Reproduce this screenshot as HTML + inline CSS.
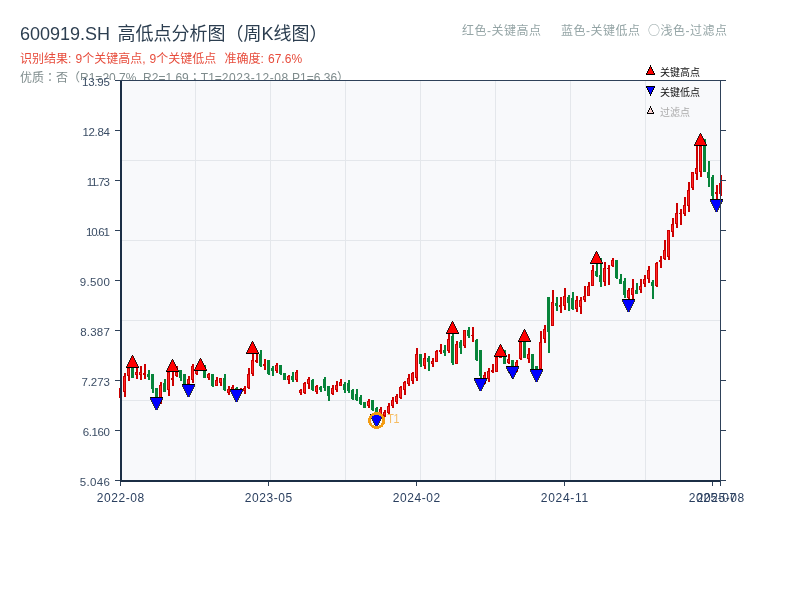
<!DOCTYPE html>
<html lang="zh-CN">
<head>
<meta charset="utf-8">
<title>600919.SH 高低点分析图（周K线图）</title>
<style>
html,body{margin:0;padding:0;background:#fff;}
body{width:800px;height:600px;position:relative;overflow:hidden;font-family:"Liberation Sans", "Noto Sans CJK SC", sans-serif;}
.hdr{position:absolute;white-space:nowrap;line-height:1;}
#title{left:20px;top:25px;font-size:18px;color:#2c3e50;word-spacing:2.5px;}
#res{left:20px;top:53.3px;font-size:12px;color:#e74c3c;word-spacing:.8px;}
#qual{left:20px;top:71px;font-size:12px;color:#7f8c8d;}
#note{left:462px;top:23.5px;font-size:12px;color:#95a5a6;letter-spacing:.5px;}
#note b{font-weight:normal;font-family:"Noto Sans CJK SC",sans-serif;}
#note span{display:inline-block;}
#qual i{font-style:normal;font-family:"Noto Sans CJK TC","Noto Sans CJK JP",sans-serif;}
svg{position:absolute;left:0;top:0;}
svg text{font-family:"Liberation Sans", "Noto Sans CJK SC", sans-serif;}
</style>
</head>
<body>
<div class="hdr" id="title">600919.SH 高低点分析图（周K线图）</div>
<div class="hdr" id="res">识别结果: 9个关键高点, 9个关键低点&nbsp; 准确度: 67.6%</div>
<div class="hdr" id="qual">优质<i lang="zh-TW">：</i>否（R1=20.7%&nbsp; R2=1.69<i lang="zh-TW">；</i>T1=<span style="letter-spacing:.55px">2023-12-08</span> P1=6.36）</div>
<div class="hdr" id="note"><span style="width:99px">红色-关键高点</span><span style="width:88px">蓝色-关键低点</span><span style="margin-left:-1px"><b>○</b>浅色-过滤点</span></div>
<svg width="800" height="600" viewBox="0 0 800 600">

<rect x="80" y="80" width="40" height="6" fill="#fff"/>
<rect x="120" y="80" width="601" height="401" fill="#f8f9fb"/>
<g fill="#e4e7eb" shape-rendering="crispEdges">
<rect x="195" y="81" width="1" height="400"/>
<rect x="270" y="81" width="1" height="400"/>
<rect x="345" y="81" width="1" height="400"/>
<rect x="420" y="81" width="1" height="400"/>
<rect x="495" y="81" width="1" height="400"/>
<rect x="570" y="81" width="1" height="400"/>
<rect x="645" y="81" width="1" height="400"/>
<rect x="122" y="160" width="598" height="1"/>
<rect x="122" y="240" width="598" height="1"/>
<rect x="122" y="320" width="598" height="1"/>
<rect x="122" y="400" width="598" height="1"/>
</g>
<g shape-rendering="crispEdges">
<rect x="119" y="388" width="3" height="10" fill="#cc0000"/>
<rect x="120" y="389" width="1" height="8" fill="#ff2626"/>
<rect x="124" y="373" width="2" height="24" fill="#cc0000"/>
<rect x="123" y="376" width="3" height="16" fill="#cc0000"/>
<rect x="124" y="377" width="1" height="14" fill="#ff2626"/>
<rect x="128" y="368" width="2" height="13" fill="#cc0000"/>
<rect x="127" y="368" width="3" height="8" fill="#cc0000"/>
<rect x="128" y="369" width="1" height="6" fill="#ff2626"/>
<rect x="132" y="368" width="2" height="10" fill="#07843a"/>
<rect x="131" y="368" width="3" height="10" fill="#07843a"/>
<rect x="136" y="368" width="2" height="11" fill="#cc0000"/>
<rect x="135" y="372" width="3" height="3" fill="#cc0000"/>
<rect x="136" y="373" width="1" height="1" fill="#ff2626"/>
<rect x="140" y="366" width="2" height="14" fill="#cc0000"/>
<rect x="139" y="372" width="3" height="3" fill="#cc0000"/>
<rect x="140" y="373" width="1" height="1" fill="#ff2626"/>
<rect x="144" y="364" width="2" height="15" fill="#cc0000"/>
<rect x="143" y="373" width="3" height="2" fill="#cc0000"/>
<rect x="148" y="370" width="2" height="10" fill="#07843a"/>
<rect x="147" y="374" width="3" height="3" fill="#07843a"/>
<rect x="152" y="374" width="2" height="19" fill="#07843a"/>
<rect x="151" y="374" width="3" height="15" fill="#07843a"/>
<rect x="156" y="388" width="2" height="10" fill="#07843a"/>
<rect x="155" y="388" width="3" height="9" fill="#07843a"/>
<rect x="160" y="382" width="2" height="22" fill="#cc0000"/>
<rect x="159" y="385" width="3" height="14" fill="#cc0000"/>
<rect x="160" y="386" width="1" height="12" fill="#ff2626"/>
<rect x="164" y="379" width="2" height="13" fill="#07843a"/>
<rect x="163" y="383" width="3" height="9" fill="#07843a"/>
<rect x="168" y="372" width="2" height="24" fill="#cc0000"/>
<rect x="167" y="372" width="3" height="18" fill="#cc0000"/>
<rect x="168" y="373" width="1" height="16" fill="#ff2626"/>
<rect x="172" y="372" width="2" height="14" fill="#cc0000"/>
<rect x="171" y="378" width="3" height="2" fill="#cc0000"/>
<rect x="176" y="366" width="2" height="11" fill="#cc0000"/>
<rect x="175" y="372" width="3" height="4" fill="#cc0000"/>
<rect x="176" y="373" width="1" height="2" fill="#ff2626"/>
<rect x="180" y="370" width="2" height="11" fill="#07843a"/>
<rect x="179" y="370" width="3" height="8" fill="#07843a"/>
<rect x="184" y="374" width="2" height="10" fill="#07843a"/>
<rect x="183" y="374" width="3" height="10" fill="#07843a"/>
<rect x="188" y="376" width="2" height="8" fill="#cc0000"/>
<rect x="187" y="379" width="3" height="5" fill="#cc0000"/>
<rect x="188" y="380" width="1" height="3" fill="#ff2626"/>
<rect x="192" y="364" width="2" height="19" fill="#cc0000"/>
<rect x="191" y="366" width="3" height="14" fill="#cc0000"/>
<rect x="192" y="367" width="1" height="12" fill="#ff2626"/>
<rect x="196" y="365" width="2" height="10" fill="#cc0000"/>
<rect x="195" y="370" width="3" height="4" fill="#cc0000"/>
<rect x="196" y="371" width="1" height="2" fill="#ff2626"/>
<rect x="204" y="365" width="2" height="13" fill="#07843a"/>
<rect x="203" y="366" width="3" height="12" fill="#07843a"/>
<rect x="208" y="373" width="2" height="7" fill="#cc0000"/>
<rect x="207" y="374" width="3" height="4" fill="#cc0000"/>
<rect x="208" y="375" width="1" height="2" fill="#ff2626"/>
<rect x="212" y="374" width="2" height="13" fill="#07843a"/>
<rect x="211" y="374" width="3" height="12" fill="#07843a"/>
<rect x="216" y="377" width="2" height="9" fill="#cc0000"/>
<rect x="215" y="380" width="3" height="6" fill="#cc0000"/>
<rect x="216" y="381" width="1" height="4" fill="#ff2626"/>
<rect x="220" y="378" width="2" height="8" fill="#cc0000"/>
<rect x="219" y="378" width="3" height="5" fill="#cc0000"/>
<rect x="220" y="379" width="1" height="3" fill="#ff2626"/>
<rect x="224" y="374" width="2" height="17" fill="#07843a"/>
<rect x="223" y="378" width="3" height="12" fill="#07843a"/>
<rect x="228" y="386" width="2" height="9" fill="#cc0000"/>
<rect x="227" y="389" width="3" height="4" fill="#cc0000"/>
<rect x="228" y="390" width="1" height="2" fill="#ff2626"/>
<rect x="232" y="385" width="2" height="7" fill="#cc0000"/>
<rect x="231" y="387" width="3" height="4" fill="#cc0000"/>
<rect x="232" y="388" width="1" height="2" fill="#ff2626"/>
<rect x="236" y="387" width="2" height="2" fill="#07843a"/>
<rect x="235" y="388" width="3" height="1" fill="#07843a"/>
<rect x="240" y="388" width="2" height="5" fill="#cc0000"/>
<rect x="239" y="389" width="3" height="3" fill="#cc0000"/>
<rect x="240" y="390" width="1" height="1" fill="#ff2626"/>
<rect x="244" y="386" width="2" height="8" fill="#cc0000"/>
<rect x="243" y="388" width="3" height="3" fill="#cc0000"/>
<rect x="244" y="389" width="1" height="1" fill="#ff2626"/>
<rect x="248" y="368" width="2" height="21" fill="#cc0000"/>
<rect x="247" y="374" width="3" height="14" fill="#cc0000"/>
<rect x="248" y="375" width="1" height="12" fill="#ff2626"/>
<rect x="252" y="354" width="2" height="22" fill="#cc0000"/>
<rect x="251" y="360" width="3" height="14" fill="#cc0000"/>
<rect x="252" y="361" width="1" height="12" fill="#ff2626"/>
<rect x="256" y="354" width="2" height="9" fill="#cc0000"/>
<rect x="255" y="360" width="3" height="2" fill="#cc0000"/>
<rect x="260" y="350" width="2" height="17" fill="#07843a"/>
<rect x="259" y="354" width="3" height="12" fill="#07843a"/>
<rect x="264" y="359" width="2" height="11" fill="#cc0000"/>
<rect x="263" y="364" width="3" height="2" fill="#cc0000"/>
<rect x="268" y="360" width="2" height="15" fill="#07843a"/>
<rect x="267" y="360" width="3" height="14" fill="#07843a"/>
<rect x="272" y="366" width="2" height="10" fill="#07843a"/>
<rect x="271" y="368" width="3" height="3" fill="#07843a"/>
<rect x="276" y="363" width="2" height="10" fill="#cc0000"/>
<rect x="275" y="365" width="3" height="6" fill="#cc0000"/>
<rect x="276" y="366" width="1" height="4" fill="#ff2626"/>
<rect x="280" y="365" width="2" height="10" fill="#07843a"/>
<rect x="279" y="365" width="3" height="9" fill="#07843a"/>
<rect x="284" y="373" width="2" height="7" fill="#07843a"/>
<rect x="283" y="373" width="3" height="7" fill="#07843a"/>
<rect x="288" y="375" width="2" height="9" fill="#cc0000"/>
<rect x="287" y="376" width="3" height="4" fill="#cc0000"/>
<rect x="288" y="377" width="1" height="2" fill="#ff2626"/>
<rect x="292" y="372" width="2" height="10" fill="#07843a"/>
<rect x="291" y="376" width="3" height="4" fill="#07843a"/>
<rect x="296" y="370" width="2" height="12" fill="#cc0000"/>
<rect x="295" y="372" width="3" height="8" fill="#cc0000"/>
<rect x="296" y="373" width="1" height="6" fill="#ff2626"/>
<rect x="300" y="389" width="2" height="6" fill="#cc0000"/>
<rect x="299" y="390" width="3" height="3" fill="#cc0000"/>
<rect x="300" y="391" width="1" height="1" fill="#ff2626"/>
<rect x="304" y="382" width="2" height="12" fill="#cc0000"/>
<rect x="303" y="383" width="3" height="10" fill="#cc0000"/>
<rect x="304" y="384" width="1" height="8" fill="#ff2626"/>
<rect x="308" y="377" width="2" height="12" fill="#cc0000"/>
<rect x="307" y="379" width="3" height="5" fill="#cc0000"/>
<rect x="308" y="380" width="1" height="3" fill="#ff2626"/>
<rect x="312" y="379" width="2" height="12" fill="#07843a"/>
<rect x="311" y="380" width="3" height="10" fill="#07843a"/>
<rect x="316" y="385" width="2" height="9" fill="#cc0000"/>
<rect x="315" y="386" width="3" height="6" fill="#cc0000"/>
<rect x="316" y="387" width="1" height="4" fill="#ff2626"/>
<rect x="320" y="386" width="2" height="6" fill="#07843a"/>
<rect x="319" y="387" width="3" height="3" fill="#07843a"/>
<rect x="324" y="377" width="2" height="14" fill="#07843a"/>
<rect x="323" y="379" width="3" height="9" fill="#07843a"/>
<rect x="328" y="386" width="2" height="15" fill="#07843a"/>
<rect x="327" y="386" width="3" height="10" fill="#07843a"/>
<rect x="332" y="385" width="2" height="10" fill="#cc0000"/>
<rect x="331" y="388" width="3" height="6" fill="#cc0000"/>
<rect x="332" y="389" width="1" height="4" fill="#ff2626"/>
<rect x="336" y="381" width="2" height="11" fill="#cc0000"/>
<rect x="335" y="385" width="3" height="5" fill="#cc0000"/>
<rect x="336" y="386" width="1" height="3" fill="#ff2626"/>
<rect x="340" y="379" width="2" height="7" fill="#cc0000"/>
<rect x="339" y="382" width="3" height="4" fill="#cc0000"/>
<rect x="340" y="383" width="1" height="2" fill="#ff2626"/>
<rect x="344" y="382" width="2" height="11" fill="#07843a"/>
<rect x="343" y="384" width="3" height="6" fill="#07843a"/>
<rect x="348" y="380" width="2" height="13" fill="#07843a"/>
<rect x="347" y="383" width="3" height="8" fill="#07843a"/>
<rect x="352" y="389" width="2" height="11" fill="#07843a"/>
<rect x="351" y="390" width="3" height="9" fill="#07843a"/>
<rect x="356" y="389" width="2" height="12" fill="#07843a"/>
<rect x="355" y="394" width="3" height="6" fill="#07843a"/>
<rect x="360" y="395" width="2" height="10" fill="#07843a"/>
<rect x="359" y="397" width="3" height="7" fill="#07843a"/>
<rect x="364" y="402" width="2" height="6" fill="#07843a"/>
<rect x="363" y="402" width="3" height="6" fill="#07843a"/>
<rect x="368" y="399" width="2" height="9" fill="#cc0000"/>
<rect x="367" y="401" width="3" height="5" fill="#cc0000"/>
<rect x="368" y="402" width="1" height="3" fill="#ff2626"/>
<rect x="372" y="400" width="2" height="11" fill="#07843a"/>
<rect x="371" y="400" width="3" height="10" fill="#07843a"/>
<rect x="376" y="407" width="2" height="7" fill="#07843a"/>
<rect x="375" y="408" width="3" height="6" fill="#07843a"/>
<rect x="380" y="407" width="2" height="8" fill="#cc0000"/>
<rect x="379" y="409" width="3" height="5" fill="#cc0000"/>
<rect x="380" y="410" width="1" height="3" fill="#ff2626"/>
<rect x="384" y="410" width="2" height="7" fill="#cc0000"/>
<rect x="383" y="412" width="3" height="4" fill="#cc0000"/>
<rect x="384" y="413" width="1" height="2" fill="#ff2626"/>
<rect x="388" y="403" width="2" height="11" fill="#cc0000"/>
<rect x="387" y="406" width="3" height="7" fill="#cc0000"/>
<rect x="388" y="407" width="1" height="5" fill="#ff2626"/>
<rect x="392" y="397" width="2" height="11" fill="#cc0000"/>
<rect x="391" y="400" width="3" height="6" fill="#cc0000"/>
<rect x="392" y="401" width="1" height="4" fill="#ff2626"/>
<rect x="396" y="394" width="2" height="10" fill="#cc0000"/>
<rect x="395" y="396" width="3" height="6" fill="#cc0000"/>
<rect x="396" y="397" width="1" height="4" fill="#ff2626"/>
<rect x="400" y="386" width="2" height="13" fill="#cc0000"/>
<rect x="399" y="387" width="3" height="11" fill="#cc0000"/>
<rect x="400" y="388" width="1" height="9" fill="#ff2626"/>
<rect x="404" y="381" width="2" height="14" fill="#cc0000"/>
<rect x="403" y="382" width="3" height="8" fill="#cc0000"/>
<rect x="404" y="383" width="1" height="6" fill="#ff2626"/>
<rect x="408" y="374" width="2" height="12" fill="#cc0000"/>
<rect x="407" y="378" width="3" height="6" fill="#cc0000"/>
<rect x="408" y="379" width="1" height="4" fill="#ff2626"/>
<rect x="412" y="372" width="2" height="12" fill="#cc0000"/>
<rect x="411" y="373" width="3" height="8" fill="#cc0000"/>
<rect x="412" y="374" width="1" height="6" fill="#ff2626"/>
<rect x="416" y="348" width="2" height="33" fill="#cc0000"/>
<rect x="415" y="354" width="3" height="24" fill="#cc0000"/>
<rect x="416" y="355" width="1" height="22" fill="#ff2626"/>
<rect x="420" y="354" width="2" height="13" fill="#07843a"/>
<rect x="419" y="354" width="3" height="10" fill="#07843a"/>
<rect x="424" y="353" width="2" height="16" fill="#cc0000"/>
<rect x="423" y="358" width="3" height="8" fill="#cc0000"/>
<rect x="424" y="359" width="1" height="6" fill="#ff2626"/>
<rect x="428" y="356" width="2" height="15" fill="#07843a"/>
<rect x="427" y="358" width="3" height="4" fill="#07843a"/>
<rect x="432" y="358" width="2" height="9" fill="#cc0000"/>
<rect x="431" y="361" width="3" height="3" fill="#cc0000"/>
<rect x="432" y="362" width="1" height="1" fill="#ff2626"/>
<rect x="436" y="350" width="2" height="12" fill="#cc0000"/>
<rect x="435" y="351" width="3" height="11" fill="#cc0000"/>
<rect x="436" y="352" width="1" height="9" fill="#ff2626"/>
<rect x="440" y="344" width="2" height="10" fill="#cc0000"/>
<rect x="439" y="350" width="3" height="2" fill="#cc0000"/>
<rect x="444" y="345" width="2" height="11" fill="#07843a"/>
<rect x="443" y="350" width="3" height="3" fill="#07843a"/>
<rect x="448" y="334" width="2" height="19" fill="#cc0000"/>
<rect x="447" y="339" width="3" height="12" fill="#cc0000"/>
<rect x="448" y="340" width="1" height="10" fill="#ff2626"/>
<rect x="452" y="334" width="2" height="31" fill="#07843a"/>
<rect x="451" y="336" width="3" height="27" fill="#07843a"/>
<rect x="456" y="341" width="2" height="23" fill="#cc0000"/>
<rect x="455" y="344" width="3" height="20" fill="#cc0000"/>
<rect x="456" y="345" width="1" height="18" fill="#ff2626"/>
<rect x="460" y="340" width="2" height="14" fill="#07843a"/>
<rect x="459" y="342" width="3" height="6" fill="#07843a"/>
<rect x="464" y="330" width="2" height="18" fill="#cc0000"/>
<rect x="463" y="330" width="3" height="16" fill="#cc0000"/>
<rect x="464" y="331" width="1" height="14" fill="#ff2626"/>
<rect x="468" y="327" width="2" height="11" fill="#07843a"/>
<rect x="467" y="330" width="3" height="6" fill="#07843a"/>
<rect x="472" y="327" width="2" height="15" fill="#cc0000"/>
<rect x="471" y="335" width="3" height="1" fill="#cc0000"/>
<rect x="476" y="339" width="2" height="22" fill="#07843a"/>
<rect x="475" y="340" width="3" height="20" fill="#07843a"/>
<rect x="480" y="350" width="2" height="28" fill="#07843a"/>
<rect x="479" y="350" width="3" height="26" fill="#07843a"/>
<rect x="484" y="372" width="2" height="12" fill="#cc0000"/>
<rect x="483" y="375" width="3" height="8" fill="#cc0000"/>
<rect x="484" y="376" width="1" height="6" fill="#ff2626"/>
<rect x="488" y="368" width="2" height="14" fill="#cc0000"/>
<rect x="487" y="371" width="3" height="8" fill="#cc0000"/>
<rect x="488" y="372" width="1" height="6" fill="#ff2626"/>
<rect x="492" y="364" width="2" height="9" fill="#cc0000"/>
<rect x="491" y="370" width="3" height="2" fill="#cc0000"/>
<rect x="496" y="357" width="2" height="15" fill="#cc0000"/>
<rect x="495" y="357" width="3" height="15" fill="#cc0000"/>
<rect x="496" y="358" width="1" height="13" fill="#ff2626"/>
<rect x="500" y="350" width="2" height="8" fill="#cc0000"/>
<rect x="499" y="352" width="3" height="6" fill="#cc0000"/>
<rect x="500" y="353" width="1" height="4" fill="#ff2626"/>
<rect x="504" y="350" width="2" height="14" fill="#07843a"/>
<rect x="503" y="350" width="3" height="14" fill="#07843a"/>
<rect x="508" y="354" width="2" height="10" fill="#cc0000"/>
<rect x="507" y="359" width="3" height="4" fill="#cc0000"/>
<rect x="508" y="360" width="1" height="2" fill="#ff2626"/>
<rect x="512" y="360" width="2" height="6" fill="#07843a"/>
<rect x="511" y="360" width="3" height="6" fill="#07843a"/>
<rect x="516" y="360" width="2" height="12" fill="#cc0000"/>
<rect x="515" y="362" width="3" height="10" fill="#cc0000"/>
<rect x="516" y="363" width="1" height="8" fill="#ff2626"/>
<rect x="520" y="342" width="2" height="18" fill="#cc0000"/>
<rect x="519" y="342" width="3" height="17" fill="#cc0000"/>
<rect x="520" y="343" width="1" height="15" fill="#ff2626"/>
<rect x="524" y="342" width="2" height="16" fill="#07843a"/>
<rect x="523" y="342" width="3" height="16" fill="#07843a"/>
<rect x="528" y="348" width="2" height="15" fill="#cc0000"/>
<rect x="527" y="354" width="3" height="5" fill="#cc0000"/>
<rect x="528" y="355" width="1" height="3" fill="#ff2626"/>
<rect x="532" y="354" width="2" height="15" fill="#07843a"/>
<rect x="531" y="354" width="3" height="15" fill="#07843a"/>
<rect x="536" y="366" width="2" height="3" fill="#07843a"/>
<rect x="535" y="366" width="3" height="3" fill="#07843a"/>
<rect x="540" y="331" width="2" height="38" fill="#cc0000"/>
<rect x="539" y="342" width="3" height="27" fill="#cc0000"/>
<rect x="540" y="343" width="1" height="25" fill="#ff2626"/>
<rect x="544" y="325" width="2" height="18" fill="#cc0000"/>
<rect x="543" y="329" width="3" height="10" fill="#cc0000"/>
<rect x="544" y="330" width="1" height="8" fill="#ff2626"/>
<rect x="548" y="297" width="2" height="56" fill="#07843a"/>
<rect x="547" y="297" width="3" height="35" fill="#07843a"/>
<rect x="552" y="290" width="2" height="36" fill="#cc0000"/>
<rect x="551" y="302" width="3" height="24" fill="#cc0000"/>
<rect x="552" y="303" width="1" height="22" fill="#ff2626"/>
<rect x="556" y="297" width="2" height="14" fill="#07843a"/>
<rect x="555" y="303" width="3" height="3" fill="#07843a"/>
<rect x="560" y="297" width="2" height="16" fill="#cc0000"/>
<rect x="559" y="305" width="3" height="2" fill="#cc0000"/>
<rect x="564" y="288" width="2" height="22" fill="#cc0000"/>
<rect x="563" y="296" width="3" height="10" fill="#cc0000"/>
<rect x="564" y="297" width="1" height="8" fill="#ff2626"/>
<rect x="568" y="295" width="2" height="16" fill="#07843a"/>
<rect x="567" y="297" width="3" height="6" fill="#07843a"/>
<rect x="572" y="292" width="2" height="18" fill="#07843a"/>
<rect x="571" y="298" width="3" height="11" fill="#07843a"/>
<rect x="576" y="296" width="2" height="16" fill="#cc0000"/>
<rect x="575" y="300" width="3" height="9" fill="#cc0000"/>
<rect x="576" y="301" width="1" height="7" fill="#ff2626"/>
<rect x="580" y="297" width="2" height="17" fill="#cc0000"/>
<rect x="579" y="300" width="3" height="7" fill="#cc0000"/>
<rect x="580" y="301" width="1" height="5" fill="#ff2626"/>
<rect x="584" y="286" width="2" height="16" fill="#cc0000"/>
<rect x="583" y="296" width="3" height="4" fill="#cc0000"/>
<rect x="584" y="297" width="1" height="2" fill="#ff2626"/>
<rect x="588" y="282" width="2" height="14" fill="#cc0000"/>
<rect x="587" y="286" width="3" height="10" fill="#cc0000"/>
<rect x="588" y="287" width="1" height="8" fill="#ff2626"/>
<rect x="592" y="265" width="2" height="21" fill="#cc0000"/>
<rect x="591" y="270" width="3" height="16" fill="#cc0000"/>
<rect x="592" y="271" width="1" height="14" fill="#ff2626"/>
<rect x="596" y="264" width="2" height="13" fill="#07843a"/>
<rect x="595" y="271" width="3" height="5" fill="#07843a"/>
<rect x="600" y="258" width="2" height="29" fill="#07843a"/>
<rect x="599" y="275" width="3" height="7" fill="#07843a"/>
<rect x="604" y="262" width="2" height="24" fill="#cc0000"/>
<rect x="603" y="268" width="3" height="14" fill="#cc0000"/>
<rect x="604" y="269" width="1" height="12" fill="#ff2626"/>
<rect x="608" y="265" width="2" height="20" fill="#cc0000"/>
<rect x="607" y="268" width="3" height="1" fill="#cc0000"/>
<rect x="612" y="258" width="2" height="9" fill="#cc0000"/>
<rect x="611" y="260" width="3" height="6" fill="#cc0000"/>
<rect x="612" y="261" width="1" height="4" fill="#ff2626"/>
<rect x="616" y="260" width="2" height="19" fill="#07843a"/>
<rect x="615" y="260" width="3" height="18" fill="#07843a"/>
<rect x="620" y="274" width="2" height="10" fill="#07843a"/>
<rect x="619" y="279" width="3" height="5" fill="#07843a"/>
<rect x="624" y="278" width="2" height="20" fill="#07843a"/>
<rect x="623" y="281" width="3" height="14" fill="#07843a"/>
<rect x="628" y="288" width="2" height="11" fill="#cc0000"/>
<rect x="627" y="290" width="3" height="8" fill="#cc0000"/>
<rect x="628" y="291" width="1" height="6" fill="#ff2626"/>
<rect x="632" y="279" width="2" height="20" fill="#cc0000"/>
<rect x="631" y="288" width="3" height="7" fill="#cc0000"/>
<rect x="632" y="289" width="1" height="5" fill="#ff2626"/>
<rect x="636" y="283" width="2" height="11" fill="#07843a"/>
<rect x="635" y="290" width="3" height="4" fill="#07843a"/>
<rect x="640" y="279" width="2" height="14" fill="#cc0000"/>
<rect x="639" y="286" width="3" height="4" fill="#cc0000"/>
<rect x="640" y="287" width="1" height="2" fill="#ff2626"/>
<rect x="644" y="275" width="2" height="12" fill="#cc0000"/>
<rect x="643" y="279" width="3" height="5" fill="#cc0000"/>
<rect x="644" y="280" width="1" height="3" fill="#ff2626"/>
<rect x="648" y="266" width="2" height="17" fill="#cc0000"/>
<rect x="647" y="270" width="3" height="9" fill="#cc0000"/>
<rect x="648" y="271" width="1" height="7" fill="#ff2626"/>
<rect x="652" y="280" width="2" height="19" fill="#07843a"/>
<rect x="651" y="282" width="3" height="4" fill="#07843a"/>
<rect x="656" y="262" width="2" height="25" fill="#cc0000"/>
<rect x="655" y="263" width="3" height="23" fill="#cc0000"/>
<rect x="656" y="264" width="1" height="21" fill="#ff2626"/>
<rect x="660" y="256" width="2" height="12" fill="#cc0000"/>
<rect x="659" y="260" width="3" height="2" fill="#cc0000"/>
<rect x="664" y="240" width="2" height="20" fill="#cc0000"/>
<rect x="663" y="250" width="3" height="9" fill="#cc0000"/>
<rect x="664" y="251" width="1" height="7" fill="#ff2626"/>
<rect x="668" y="230" width="2" height="30" fill="#cc0000"/>
<rect x="667" y="230" width="3" height="27" fill="#cc0000"/>
<rect x="668" y="231" width="1" height="25" fill="#ff2626"/>
<rect x="672" y="218" width="2" height="19" fill="#cc0000"/>
<rect x="671" y="224" width="3" height="8" fill="#cc0000"/>
<rect x="672" y="225" width="1" height="6" fill="#ff2626"/>
<rect x="676" y="203" width="2" height="25" fill="#cc0000"/>
<rect x="675" y="213" width="3" height="11" fill="#cc0000"/>
<rect x="676" y="214" width="1" height="9" fill="#ff2626"/>
<rect x="680" y="209" width="2" height="16" fill="#cc0000"/>
<rect x="679" y="213" width="3" height="1" fill="#cc0000"/>
<rect x="684" y="197" width="2" height="19" fill="#cc0000"/>
<rect x="683" y="205" width="3" height="9" fill="#cc0000"/>
<rect x="684" y="206" width="1" height="7" fill="#ff2626"/>
<rect x="688" y="182" width="2" height="30" fill="#cc0000"/>
<rect x="687" y="190" width="3" height="16" fill="#cc0000"/>
<rect x="688" y="191" width="1" height="14" fill="#ff2626"/>
<rect x="692" y="172" width="2" height="18" fill="#cc0000"/>
<rect x="691" y="172" width="3" height="16" fill="#cc0000"/>
<rect x="692" y="173" width="1" height="14" fill="#ff2626"/>
<rect x="696" y="146" width="2" height="34" fill="#cc0000"/>
<rect x="695" y="168" width="3" height="6" fill="#cc0000"/>
<rect x="696" y="169" width="1" height="4" fill="#ff2626"/>
<rect x="700" y="146" width="2" height="31" fill="#cc0000"/>
<rect x="699" y="146" width="3" height="26" fill="#cc0000"/>
<rect x="700" y="147" width="1" height="24" fill="#ff2626"/>
<rect x="704" y="139" width="2" height="33" fill="#07843a"/>
<rect x="703" y="139" width="3" height="33" fill="#07843a"/>
<rect x="708" y="161" width="2" height="26" fill="#07843a"/>
<rect x="707" y="172" width="3" height="6" fill="#07843a"/>
<rect x="712" y="175" width="2" height="24" fill="#07843a"/>
<rect x="711" y="177" width="3" height="19" fill="#07843a"/>
<rect x="716" y="185" width="2" height="14" fill="#cc0000"/>
<rect x="715" y="192" width="3" height="2" fill="#cc0000"/>
<rect x="720" y="175" width="2" height="21" fill="#cc0000"/>
<rect x="719" y="183" width="3" height="11" fill="#cc0000"/>
<rect x="720" y="184" width="1" height="9" fill="#ff2626"/>
</g>
<path d="M126.30 367.50 L138.70 367.50 L132.50 355.10 Z" fill="#ff0000" stroke="#000" stroke-width="0.8" shape-rendering="crispEdges"/><rect x="125.8" y="367.0" width="13.4" height="1" fill="#000" shape-rendering="crispEdges"/>
<path d="M166.30 371.50 L178.70 371.50 L172.50 359.10 Z" fill="#ff0000" stroke="#000" stroke-width="0.8" shape-rendering="crispEdges"/><rect x="165.8" y="371.0" width="13.4" height="1" fill="#000" shape-rendering="crispEdges"/>
<path d="M194.30 370.50 L206.70 370.50 L200.50 358.10 Z" fill="#ff0000" stroke="#000" stroke-width="0.8" shape-rendering="crispEdges"/><rect x="193.8" y="370.0" width="13.4" height="1" fill="#000" shape-rendering="crispEdges"/>
<path d="M246.30 353.50 L258.70 353.50 L252.50 341.10 Z" fill="#ff0000" stroke="#000" stroke-width="0.8" shape-rendering="crispEdges"/><rect x="245.8" y="353.0" width="13.4" height="1" fill="#000" shape-rendering="crispEdges"/>
<path d="M446.30 333.50 L458.70 333.50 L452.50 321.10 Z" fill="#ff0000" stroke="#000" stroke-width="0.8" shape-rendering="crispEdges"/><rect x="445.8" y="333.0" width="13.4" height="1" fill="#000" shape-rendering="crispEdges"/>
<path d="M494.30 356.50 L506.70 356.50 L500.50 344.10 Z" fill="#ff0000" stroke="#000" stroke-width="0.8" shape-rendering="crispEdges"/><rect x="493.8" y="356.0" width="13.4" height="1" fill="#000" shape-rendering="crispEdges"/>
<path d="M518.30 341.50 L530.70 341.50 L524.50 329.10 Z" fill="#ff0000" stroke="#000" stroke-width="0.8" shape-rendering="crispEdges"/><rect x="517.8" y="341.0" width="13.4" height="1" fill="#000" shape-rendering="crispEdges"/>
<path d="M590.30 263.50 L602.70 263.50 L596.50 251.10 Z" fill="#ff0000" stroke="#000" stroke-width="0.8" shape-rendering="crispEdges"/><rect x="589.8" y="263.0" width="13.4" height="1" fill="#000" shape-rendering="crispEdges"/>
<path d="M694.30 145.50 L706.70 145.50 L700.50 133.10 Z" fill="#ff0000" stroke="#000" stroke-width="0.8" shape-rendering="crispEdges"/><rect x="693.8" y="145.0" width="13.4" height="1" fill="#000" shape-rendering="crispEdges"/>
<path d="M150.30 397.50 L162.70 397.50 L156.50 409.90 Z" fill="#0000ff" stroke="#000" stroke-width="0.8" shape-rendering="crispEdges"/><rect x="149.8" y="397.0" width="13.4" height="1" fill="#000" shape-rendering="crispEdges"/>
<path d="M182.30 384.50 L194.70 384.50 L188.50 396.90 Z" fill="#0000ff" stroke="#000" stroke-width="0.8" shape-rendering="crispEdges"/><rect x="181.8" y="384.0" width="13.4" height="1" fill="#000" shape-rendering="crispEdges"/>
<path d="M230.30 389.50 L242.70 389.50 L236.50 401.90 Z" fill="#0000ff" stroke="#000" stroke-width="0.8" shape-rendering="crispEdges"/><rect x="229.8" y="389.0" width="13.4" height="1" fill="#000" shape-rendering="crispEdges"/>
<path d="M370.30 414.50 L382.70 414.50 L376.50 426.90 Z" fill="#0000ff" stroke="#000" stroke-width="0.8" shape-rendering="crispEdges"/><rect x="369.8" y="414.0" width="13.4" height="1" fill="#000" shape-rendering="crispEdges"/>
<path d="M474.30 378.50 L486.70 378.50 L480.50 390.90 Z" fill="#0000ff" stroke="#000" stroke-width="0.8" shape-rendering="crispEdges"/><rect x="473.8" y="378.0" width="13.4" height="1" fill="#000" shape-rendering="crispEdges"/>
<path d="M506.30 366.50 L518.70 366.50 L512.50 378.90 Z" fill="#0000ff" stroke="#000" stroke-width="0.8" shape-rendering="crispEdges"/><rect x="505.8" y="366.0" width="13.4" height="1" fill="#000" shape-rendering="crispEdges"/>
<path d="M530.30 369.50 L542.70 369.50 L536.50 381.90 Z" fill="#0000ff" stroke="#000" stroke-width="0.8" shape-rendering="crispEdges"/><rect x="529.8" y="369.0" width="13.4" height="1" fill="#000" shape-rendering="crispEdges"/>
<path d="M622.30 299.50 L634.70 299.50 L628.50 311.90 Z" fill="#0000ff" stroke="#000" stroke-width="0.8" shape-rendering="crispEdges"/><rect x="621.8" y="299.0" width="13.4" height="1" fill="#000" shape-rendering="crispEdges"/>
<path d="M710.30 199.50 L722.70 199.50 L716.50 211.90 Z" fill="#0000ff" stroke="#000" stroke-width="0.8" shape-rendering="crispEdges"/><rect x="709.8" y="199.0" width="13.4" height="1" fill="#000" shape-rendering="crispEdges"/>
<g fill="#1b2e45" shape-rendering="crispEdges">
<rect x="120" y="80" width="2" height="402"/>
<rect x="120" y="480" width="601" height="2"/>
</g>
<g fill="#2e4159" shape-rendering="crispEdges">
<rect x="120" y="80" width="606" height="1"/>
<rect x="720" y="80" width="1" height="402"/>
<rect x="115" y="80" width="5" height="1"/>
<rect x="115" y="130" width="5" height="1"/>
<rect x="721" y="130" width="5" height="1"/>
<rect x="115" y="180" width="5" height="1"/>
<rect x="721" y="180" width="5" height="1"/>
<rect x="115" y="230" width="5" height="1"/>
<rect x="721" y="230" width="5" height="1"/>
<rect x="115" y="280" width="5" height="1"/>
<rect x="721" y="280" width="5" height="1"/>
<rect x="115" y="330" width="5" height="1"/>
<rect x="721" y="330" width="5" height="1"/>
<rect x="115" y="380" width="5" height="1"/>
<rect x="721" y="380" width="5" height="1"/>
<rect x="115" y="430" width="5" height="1"/>
<rect x="721" y="430" width="5" height="1"/>
<rect x="115" y="480" width="5" height="1"/>
<rect x="721" y="480" width="5" height="1"/>
<rect x="120" y="482" width="1" height="4"/>
<rect x="268" y="482" width="1" height="4"/>
<rect x="416" y="482" width="1" height="4"/>
<rect x="564" y="482" width="1" height="4"/>
<rect x="712" y="482" width="1" height="4"/>
<rect x="720" y="482" width="1" height="4"/>
</g>
<circle cx="376.6" cy="420.5" r="7.2" fill="none" stroke="#f39c12" stroke-width="2.7" shape-rendering="crispEdges"/>
<text transform="translate(387.3,422.9) scale(0.9,1)" font-size="12" fill="#f6bd63" letter-spacing="-0.5">T1</text>
<g font-size="11.5" fill="#3b4d65" text-anchor="end">
<text x="109.8" y="86.2" textLength="27.75" lengthAdjust="spacing">13.95</text>
<text x="109.8" y="136.2" textLength="27.25" lengthAdjust="spacing">12.84</text>
<text x="109.8" y="186.2" textLength="23.00" lengthAdjust="spacing">11.73</text>
<text x="109.8" y="236.2" textLength="23.75" lengthAdjust="spacing">10.61</text>
<text x="109.8" y="286.2" textLength="30.00" lengthAdjust="spacing">9.500</text>
<text x="109.8" y="336.2" textLength="29.50" lengthAdjust="spacing">8.387</text>
<text x="109.8" y="386.2" textLength="28.25" lengthAdjust="spacing">7.273</text>
<text x="109.8" y="436.2" textLength="27.00" lengthAdjust="spacing">6.160</text>
<text x="109.8" y="486.2" textLength="30.00" lengthAdjust="spacing">5.046</text>
</g>
<g font-size="12" fill="#2a3f5f" text-anchor="middle">
<text x="120.5" y="502.3" textLength="47.3" lengthAdjust="spacing">2022-08</text>
<text x="268.5" y="502.3" textLength="47.3" lengthAdjust="spacing">2023-05</text>
<text x="416.5" y="502.3" textLength="47.3" lengthAdjust="spacing">2024-02</text>
<text x="564.5" y="502.3" textLength="47.3" lengthAdjust="spacing">2024-11</text>
<text x="712.5" y="502.3" textLength="47.3" lengthAdjust="spacing">2025-07</text>
<text x="720.5" y="502.3" textLength="47.3" lengthAdjust="spacing">2025-08</text>
</g>
<path d="M646.40 74.50 L654.60 74.50 L650.50 66.30 Z" fill="#ff0000" stroke="#000" stroke-width="1" shape-rendering="crispEdges"/><rect x="645.9" y="74.0" width="9.2" height="1" fill="#000" shape-rendering="crispEdges"/>
<path d="M646.40 86.50 L654.60 86.50 L650.50 94.70 Z" fill="#0000ff" stroke="#000" stroke-width="1" shape-rendering="crispEdges"/><rect x="645.9" y="86.0" width="9.2" height="1" fill="#000" shape-rendering="crispEdges"/>
<path d="M647.40 113.50 L653.60 113.50 L650.50 107.30 Z" fill="#f8d0d0" stroke="#000" stroke-width="1" shape-rendering="crispEdges"/><rect x="646.9" y="113.0" width="7.2" height="1" fill="#000" shape-rendering="crispEdges"/>
<g font-size="10">
<text x="660" y="75.8" fill="#111">关键高点</text>
<text x="660" y="95.8" fill="#111">关键低点</text>
<text x="660" y="115.8" fill="#aaa">过滤点</text>
</g>
</svg>
</body>
</html>
